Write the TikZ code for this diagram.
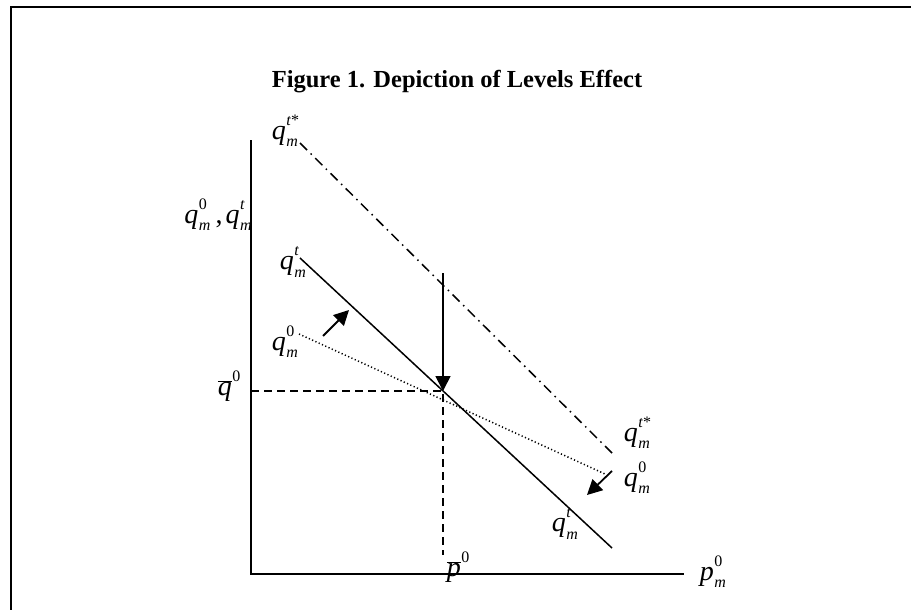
\documentclass[tikz,border=0pt]{standalone}
\usepackage{fontspec}
\setmainfont{Liberation Serif}
\usetikzlibrary{arrows.meta}

\newcommand{\scr}{\fontsize{16}{16}\selectfont}
% base letter with stacked super- and subscript
\newcommand{\lbl}[3]{#1\kern0.5pt\rlap{\raisebox{0.5em}{\scr #2}}\raisebox{-0.26em}{\scr\itshape #3}}
\newcommand{\qlab}[1]{\lbl{\textit{q}}{#1}{m}}
\newcommand{\barred}[1]{$\overline{\hbox{\textit{#1}}}$}

\begin{document}
\begin{tikzpicture}[x=1pt,y=-1pt,>={Triangle[length=15pt,width=15pt]},
  lab/.style={inner sep=0pt,font=\fontsize{28}{30}\selectfont},
  axis/.style={line width=1.8pt},
  curve/.style={line width=1.5pt},
  shiftarrow/.style={line width=1.8pt,->}]
\useasboundingbox (0,0) rectangle (911,610);
% frame
\draw[line width=2pt] (11,610) -- (11,7) -- (911,7);
\node[font=\fontsize{24.5}{28}\selectfont\bfseries] (title) at (457,82) {Figure 1. Depiction of Levels Effect};
% axes
\coordinate (ytop) at (251,140);
\coordinate (orig) at (251,574);
\coordinate (xend) at (684,574);
\draw[axis] (ytop) -- (orig) -- (xend);
% demand lines
\coordinate (ts1) at (300,143); \coordinate (ts2) at (612,453);
\coordinate (t1) at (300,258);  \coordinate (t2) at (612,548);
\coordinate (z1) at (299,334);  \coordinate (z2) at (605,474);
\draw[curve,dash pattern=on 10pt off 5pt on 1.5pt off 5pt] (ts1) -- (ts2);
\draw[curve] (t1) -- (t2);
\draw[curve,dash pattern=on 1.2pt off 2.4pt] (z1) -- (z2);
% equilibrium
\coordinate (eq) at (443,391);
\coordinate (qb) at (251,391);
\coordinate (pb) at (443,555);
\draw[curve,dash pattern=on 8pt off 5pt] (qb) -- (eq) -- (pb);
% shift arrows
\coordinate (a1) at (443,273);
\coordinate (b1) at (323,336); \coordinate (b2) at (349,310);
\coordinate (c1) at (612,471); \coordinate (c2) at (587,495);
\draw[shiftarrow] (a1) -- (eq);
\draw[shiftarrow] (b1) -- (b2);
\draw[shiftarrow] (c1) -- (c2);
% labels
\node[lab] (lqts1) at (285,131) {\qlab{\textit{t}*}};
\node[lab] (ly) at (218,215) {\qlab{0}\kern5pt,\kern3pt\qlab{\textit{t}}};
\node[lab] (lqt1) at (293,262) {\qlab{\textit{t}}};
\node[lab] (lq01) at (285,342) {\qlab{0}};
\node[lab] (lqb) at (225,387) {\lbl{\barred{q}}{0}{}};
\node[lab] (lpb) at (454,568) {\lbl{\barred{p}}{0}{}};
\node[lab] (lpm) at (713,572) {\lbl{\textit{p}}{0}{m}};
\node[lab] (lqts2) at (637,433) {\qlab{\textit{t}*}};
\node[lab] (lq02) at (637,478) {\qlab{0}};
\node[lab] (lqt2) at (565,524) {\qlab{\textit{t}}};
\end{tikzpicture}
\end{document}
